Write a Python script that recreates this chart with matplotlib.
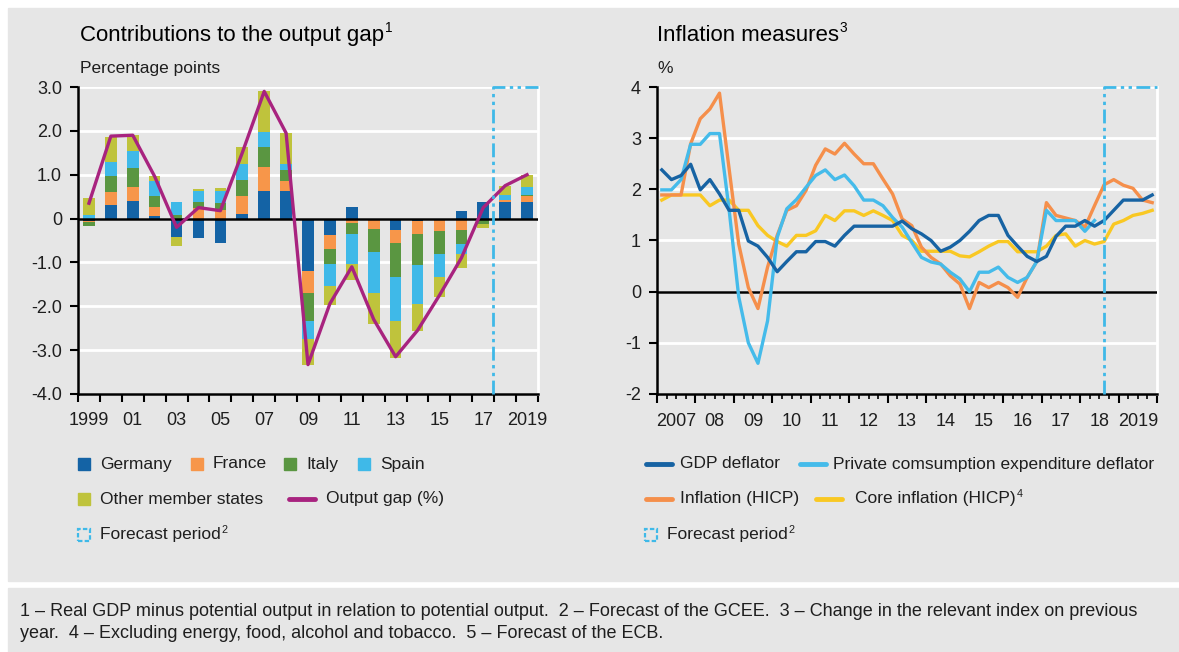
import numpy as np
import matplotlib
matplotlib.use("Agg")
from matplotlib import pyplot as plt
from matplotlib import font_manager
from matplotlib.patches import Rectangle
from matplotlib.lines import Line2D

# ---- data: contributions to the output gap (percentage points) ----
years = list(range(1999, 2020))
germany = [-0.05, 0.30, 0.40, 0.06, -0.42, -0.45, -0.55, 0.11, 0.64, 0.62, -1.19,
           -0.37, 0.27, 0.0, -0.26, -0.06, 0.0, 0.18, 0.37, 0.37, 0.37]
france = [-0.03, 0.31, 0.33, 0.21, 0.0, 0.24, 0.20, 0.40, 0.53, 0.24, -0.50,
          -0.32, -0.11, -0.24, -0.29, -0.29, -0.28, -0.26, 0.0, 0.05, 0.15]
italy = [-0.08, 0.36, 0.42, 0.24, 0.08, 0.14, 0.15, 0.36, 0.47, 0.24, -0.65,
         -0.34, -0.24, -0.53, -0.78, -0.72, -0.53, -0.31, -0.12, 0.0, 0.02]
spain = [0.08, 0.33, 0.40, 0.34, 0.30, 0.26, 0.29, 0.37, 0.34, 0.15, -0.40,
         -0.51, -0.68, -0.92, -1.01, -0.88, -0.52, -0.24, 0.0, 0.11, 0.18]
other = [0.40, 0.57, 0.35, 0.11, -0.20, 0.04, 0.05, 0.40, 0.94, 0.70, -0.60,
         -0.43, -0.36, -0.71, -0.84, -0.61, -0.46, -0.31, -0.10, 0.22, 0.28]
output_gap = [0.35, 1.88, 1.90, 0.96, -0.20, 0.25, 0.18, 1.50, 2.90, 1.95, -3.33,
              -1.94, -1.10, -2.30, -3.15, -2.55, -1.75, -0.90, 0.25, 0.75, 1.00]
left_xlabels = ["1999", "01", "03", "05", "07", "09", "11", "13", "15", "17", "2019"]
left_ylabels = ["-4.0", "-3.0", "-2.0", "-1.0", "0", "1.0", "2.0", "3.0"]

# ---- data: inflation measures (%), quarterly 2007Q1 - 2019Q4 ----
gdp_deflator = [2.38, 2.19, 2.27, 2.49, 1.99, 2.19, 1.91, 1.59, 1.59, 0.99, 0.89, 0.67,
                0.39, 0.59, 0.78, 0.78, 0.98, 0.98, 0.89, 1.10, 1.28, 1.28, 1.28, 1.28,
                1.28, 1.38, 1.23, 1.13, 1.00, 0.79, 0.87, 1.00, 1.18, 1.39, 1.49, 1.49,
                1.10, 0.89, 0.69, 0.59, 0.69, 1.08, 1.28, 1.28, 1.39, 1.28, 1.39, 1.59,
                1.79, 1.79, 1.79, 1.89]
pce_deflator = [1.99, 1.99, 2.19, 2.88, 2.88, 3.09, 3.09, 1.60, -0.10, -1.00, -1.40, -0.57,
                1.06, 1.62, 1.80, 2.04, 2.27, 2.38, 2.19, 2.28, 2.07, 1.79, 1.79, 1.68,
                1.45, 1.26, 0.96, 0.67, 0.58, 0.54, 0.38, 0.25, 0.00, 0.38, 0.38, 0.48,
                0.28, 0.18, 0.28, 0.59, 1.59, 1.39, 1.39, 1.39, 1.18, 1.39]
hicp = [1.89, 1.89, 1.89, 2.89, 3.38, 3.57, 3.88, 2.40, 0.93, 0.08, -0.33, 0.48,
        1.10, 1.59, 1.68, 1.98, 2.47, 2.79, 2.69, 2.90, 2.69, 2.50, 2.50, 2.20,
        1.91, 1.42, 1.29, 0.87, 0.67, 0.54, 0.31, 0.15, -0.33, 0.18, 0.08, 0.18,
        0.08, -0.11, 0.28, 0.59, 1.74, 1.49, 1.44, 1.39, 1.26, 1.68, 2.09, 2.19,
        2.08, 2.02, 1.79, 1.74]
core_hicp = [1.79, 1.89, 1.89, 1.89, 1.89, 1.68, 1.79, 1.79, 1.59, 1.59, 1.29, 1.10,
             0.98, 0.89, 1.10, 1.10, 1.19, 1.49, 1.39, 1.58, 1.58, 1.49, 1.58, 1.49,
             1.39, 1.10, 1.00, 0.79, 0.79, 0.79, 0.79, 0.70, 0.68, 0.78, 0.89, 0.98,
             0.98, 0.78, 0.78, 0.78, 0.89, 1.10, 1.13, 0.89, 1.00, 0.93, 0.98, 1.32,
             1.39, 1.49, 1.53, 1.59]
right_xlabels = ["2007", "08", "09", "10", "11", "12", "13", "14", "15", "16", "17", "18", "2019"]
right_ylabels = ["-2", "-1", "0", "1", "2", "3", "4"]

footnote1 = ("1 \u2013 Real GDP minus potential output in relation to potential output.  "
             "2 \u2013 Forecast of the GCEE.  3 \u2013 Change in the relevant index on previous")
footnote2 = "year.  4 \u2013 Excluding energy, food, alcohol and tobacco.  5 \u2013 Forecast of the ECB."

# ---- style ----
GRAY = "#e6e6e6"
TXT = "#1e1e1e"
C_DE, C_FR, C_IT, C_ES, C_OT = "#1463a5", "#f7964a", "#5a9641", "#3fb9e8", "#bfc33c"
C_GAP = "#a8237f"
C_GDP, C_PCE, C_HICP, C_CORE = "#1763a3", "#45bbea", "#f58f4b", "#f9c823"
C_FC = "#3fb9e8"
FC_DASH = (0, (5, 1.6, 1.2, 1.6, 1.2, 1.6))

plt.rcParams['font.family'] = ['Liberation Sans', 'DejaVu Sans']
names = {f.name for f in font_manager.fontManager.ttflist}
NARROW = ['Liberation Sans Narrow', 'DejaVu Sans'] if 'Liberation Sans Narrow' in names \
    else ['Liberation Sans', 'DejaVu Sans']

W, H = 1179, 652


def fx(x):
    return x / W


def fy(y):
    return 1 - y / H


fig = plt.figure(figsize=(W / 100, H / 100), dpi=100, facecolor="white")
r = fig.canvas.get_renderer()
fig.add_artist(Rectangle((fx(8), fy(581)), 1 - fx(8), fy(8) - fy(581),
                         transform=fig.transFigure, color=GRAY, zorder=0))
fig.add_artist(Rectangle((fx(8), 0), 1 - fx(8), fy(588),
                         transform=fig.transFigure, color=GRAY, zorder=0))


def style_axes(ax):
    ax.set_facecolor(GRAY)
    ax.yaxis.grid(True, color="white", lw=2)
    ax.set_axisbelow(True)
    ax.spines["top"].set_visible(False)
    ax.spines["right"].set_color("white")
    ax.spines["right"].set_linewidth(2)
    for s in ("left", "bottom"):
        ax.spines[s].set_color("black")
        ax.spines[s].set_linewidth(1.8)
    ax.tick_params(axis="y", length=5.5, width=1.5, pad=6, labelsize=13, labelcolor=TXT)


def sup_text(x, y, main, sup, size, va="baseline", color=TXT):
    # main text plus a raised, smaller footnote number
    t = fig.text(fx(x), fy(y), main, fontsize=size, va=va, color=color)
    w = t.get_window_extent(r).width
    rise = size * (0.42 if va == "baseline" else 0.3) * 100 / 72
    fig.text(fx(x + w + 1), fy(y - rise), sup, fontsize=size * 0.62, va=va, color=color)


# ---- left chart ----
ax1 = fig.add_axes([fx(78), fy(394), fx(538) - fx(78), fy(87) - fy(394)])
style_axes(ax1)
pos = np.zeros(len(years))
neg = np.zeros(len(years))
for vals, col in zip([germany, france, italy, spain, other], [C_DE, C_FR, C_IT, C_ES, C_OT]):
    v = np.array(vals)
    ax1.bar(years, v, 0.53, bottom=np.where(v >= 0, pos, neg), color=col, zorder=2)
    pos += np.clip(v, 0, None)
    neg += np.clip(v, None, 0)
ax1.axhline(0, color="black", lw=1.8, zorder=3)
ax1.plot(years, output_gap, color=C_GAP, lw=2.4, zorder=4)
ax1.plot([2017.45, 2017.45, 2019.5], [-4, 3, 3], color=C_FC, lw=2, ls=FC_DASH,
         clip_on=False, zorder=5)
ax1.set_xlim(1998.5, 2019.5)
ax1.set_ylim(-4, 3)
ax1.set_yticks(range(-4, 4))
ax1.set_yticklabels(left_ylabels)
ax1.set_xticks(np.arange(1998.5, 2020, 1))
ax1.set_xticklabels([])
ax1.tick_params(axis="x", which="major", length=6, width=1.5)
ax1.set_xticks(list(range(1999, 2020, 2)), minor=True)
ax1.set_xticklabels(left_xlabels, minor=True)
ax1.tick_params(axis="x", which="minor", length=0, pad=13, labelsize=13, labelcolor=TXT)

# ---- right chart ----
qx = 2007 + (np.arange(52) + 0.5) / 4
ax2 = fig.add_axes([fx(657), fy(394), fx(1157) - fx(657), fy(87) - fy(394)])
style_axes(ax2)
ax2.axhline(0, color="black", lw=1.8, zorder=3)
ax2.plot(qx, core_hicp, color=C_CORE, lw=2.4, zorder=4)
ax2.plot(qx, hicp, color=C_HICP, lw=2.4, zorder=4)
ax2.plot(qx[:len(pce_deflator)], pce_deflator, color=C_PCE, lw=2.4, zorder=4)
ax2.plot(qx, gdp_deflator, color=C_GDP, lw=2.4, zorder=4)
ax2.plot([2018.625, 2018.625, 2020], [-2, 4, 4], color=C_FC, lw=2, ls=FC_DASH,
         clip_on=False, zorder=5)
ax2.set_xlim(2007, 2020)
ax2.set_ylim(-2, 4)
ax2.set_yticks(range(-2, 5))
ax2.set_yticklabels(right_ylabels)
ax2.set_xticks(range(2007, 2021))
ax2.set_xticklabels([])
ax2.set_xticks(np.arange(2007, 2020.01, 0.25), minor=True)
ax2.tick_params(axis="x", which="major", length=6.5, width=1.5)
ax2.tick_params(axis="x", which="minor", length=3.5, width=1.2)
sec = ax2.secondary_xaxis("bottom")
sec.set_xticks(np.arange(2007.5, 2020, 1))
sec.set_xticklabels(right_xlabels)
sec.tick_params(length=0, pad=14, labelsize=13, labelcolor=TXT)
sec.spines["bottom"].set_visible(False)

# ---- titles ----
sup_text(80, 41, "Contributions to the output gap", "1", 16, color="black")
fig.text(fx(80), fy(73), "Percentage points", fontsize=12.5, va="baseline", color=TXT)
sup_text(657, 41, "Inflation measures", "3", 16, color="black")
fig.text(fx(657), fy(73), "%", fontsize=12.5, va="baseline", color=TXT)


# ---- legends ----
def leg_box(x, y, col, label):
    fig.add_artist(Rectangle((fx(x), fy(y + 6)), 12 / W, 12 / H, transform=fig.transFigure,
                             color=col))
    fig.text(fx(x + 22), fy(y), label, fontsize=12.5, va="center", color=TXT)


def leg_line(x, y, col, label, tx, sup=None):
    fig.add_artist(Line2D([fx(x), fx(x + 26)], [fy(y), fy(y)], transform=fig.transFigure,
                          color=col, lw=3.5, solid_capstyle="round"))
    if sup:
        sup_text(tx, y, label, sup, 12.5, va="center")
    else:
        fig.text(fx(tx), fy(y), label, fontsize=12.5, va="center", color=TXT)


def leg_fc(x, y):
    fig.add_artist(Rectangle((fx(x), fy(y + 6)), 12 / W, 12 / H, transform=fig.transFigure,
                             fill=False, edgecolor=C_FC, lw=1.6, ls=(0, (2, 1))))
    sup_text(x + 22, y, "Forecast period", "2", 12.5, va="center")


leg_box(78, 464, C_DE, "Germany")
leg_box(191, 464, C_FR, "France")
leg_box(284, 464, C_IT, "Italy")
leg_box(358, 464, C_ES, "Spain")
leg_box(78, 499, C_OT, "Other member states")
leg_line(289, 499, C_GAP, "Output gap (%)", 326)
leg_fc(78, 535)

leg_line(646, 464, C_GDP, "GDP deflator", 680)
leg_line(800, 464, C_PCE, "Private comsumption expenditure deflator", 833)
leg_line(646, 499, C_HICP, "Inflation (HICP)", 680)
leg_line(816, 499, C_CORE, "Core inflation (HICP)", 855, sup="4")
leg_fc(645, 535)

# ---- footnote, sized so that the first line spans the box ----
t1 = fig.text(fx(20), fy(611), footnote1, fontsize=12, va="center", color=TXT, family=NARROW)
t2 = fig.text(fx(20), fy(634), footnote2, fontsize=12, va="center", color=TXT, family=NARROW)
wdt = t1.get_window_extent(r).width
size = 12 * 1120 / wdt
t1.set_fontsize(size)
t2.set_fontsize(size)

fig.savefig("out.png", dpi=100, facecolor="white")
